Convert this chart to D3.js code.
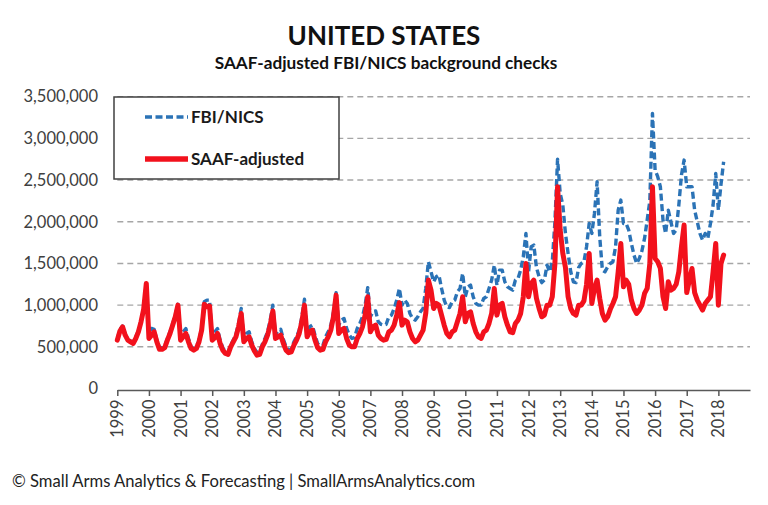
<!DOCTYPE html>
<html>
<head>
<meta charset="utf-8">
<script src="https://cdn.jsdelivr.net/npm/d3@7/dist/d3.min.js"></script>
<style>
  html, body { margin: 0; padding: 0; background: #ffffff; }
  svg { display: block; }
  text { font-family: Lato, "Open Sans", sans-serif; }
</style>
</head>
<body>
<svg id="chart" width="768" height="505"></svg>
<script>
// ---------------- DATA (monthly, thousands of checks) ----------------
const startYear = 1999;
const tickLabels = ["1999","2000","2001","2002","2003","2004","2005","2006","2007","2008",
                    "2009","2010","2011","2012","2013","2014","2015","2016","2017","2018"];
const yTickValues = [0, 500, 1000, 1500, 2000, 2500, 3000, 3500];

// FBI/NICS monthly totals, Jan 1999 - Mar 2018 (thousands)
const fbiNics = [
  590, 710, 750, 650, 590, 570, 550, 620, 690, 810, 960, 1260,
  610, 720, 710, 580, 490, 490, 510, 600, 680, 780, 880, 1010,
  600, 680, 720, 600, 500, 480, 500, 580, 720, 1040, 1060, 1060,
  600, 680, 720, 580, 490, 440, 430, 520, 580, 650, 780, 960,
  590, 660, 680, 560, 480, 430, 440, 530, 600, 680, 820, 1000,
  640, 690, 710, 590, 500, 460, 470, 560, 620, 700, 860, 1070,
  660, 740, 760, 640, 540, 510, 520, 620, 680, 760, 920, 1150,
  760, 820, 840, 720, 640, 600, 610, 720, 780, 860, 1000, 1210,
  860, 920, 930, 800, 770, 760, 770, 860, 880, 960, 1060, 1200,
  1000, 1060, 1020, 900, 840, 820, 860, 920, 960, 1200, 1520, 1400,
  1280, 1340, 1360, 1200, 1060, 980, 970, 1040, 1060, 1160, 1200, 1380,
  1100, 1220, 1240, 1100, 1020, 1000, 1000, 1080, 1100, 1200, 1300, 1480,
  1240, 1420, 1420, 1280, 1220, 1200, 1180, 1300, 1320, 1420, 1580, 1860,
  1400, 1700, 1720, 1450, 1340, 1270, 1300, 1480, 1400, 1520, 2000, 2750,
  2340, 2200, 1860, 1620, 1400, 1280, 1270, 1450, 1500, 1520, 1700, 1980,
  1860, 2100, 2480, 1820, 1420, 1400, 1460, 1500, 1520, 1700, 2140, 2260,
  1980, 1980, 1900, 1740, 1600, 1500, 1560, 1650, 1800, 2020, 2250, 3300,
  2620, 2540, 2420, 2020, 1860, 2140, 2000, 1860, 1900, 2200, 2560, 2740,
  2420, 2420, 2420, 2140, 2000, 1860, 1780, 1860, 1800, 1980, 2200, 2580,
  2140, 2450, 2720
];

// SAAF-adjusted checks, Jan 1999 - Mar 2018 (thousands)
const saafAdjusted = [
  580, 690, 740, 640, 580, 560, 540, 600, 680, 800, 950, 1260,
  600, 640, 680, 560, 470, 470, 490, 580, 660, 760, 860, 1000,
  580, 620, 660, 560, 480, 460, 480, 560, 700, 1010, 980, 990,
  580, 610, 660, 540, 460, 420, 410, 500, 560, 620, 740, 900,
  560, 600, 620, 520, 450, 400, 410, 500, 560, 640, 760, 930,
  600, 620, 640, 540, 460, 430, 440, 520, 580, 660, 800, 1000,
  620, 680, 700, 580, 490, 460, 470, 560, 620, 700, 860, 1120,
  660, 700, 720, 600, 520, 500, 500, 600, 660, 740, 880, 1100,
  680, 740, 760, 640, 600, 580, 590, 680, 700, 760, 880, 1030,
  760, 820, 800, 680, 600, 560, 580, 640, 700, 900, 1300, 1180,
  960, 1020, 1000, 880, 760, 660, 620, 680, 700, 800, 900, 1100,
  800, 900, 920, 780, 680, 620, 600, 680, 700, 780, 900, 1200,
  880, 1000, 1020, 860, 760, 680, 670, 780, 820, 900, 1100, 1500,
  1100, 1260, 1300, 1080, 960, 860, 880, 1000, 1000, 1100, 1500, 2420,
  1900, 1620, 1450, 1100, 960, 900, 880, 1000, 1000, 1050, 1250, 1620,
  1020, 1200, 1300, 1080, 900, 820, 860, 950, 1020, 1100, 1400, 1740,
  1220, 1300, 1250, 1060, 960, 900, 940, 1000, 1140, 1200, 1500, 2420,
  1560, 1520, 1440, 1100, 960, 1280, 1180, 1200, 1250, 1400, 1700, 1960,
  1150, 1300, 1440, 1150, 1060, 1000, 940, 1020, 1060, 1100, 1400, 1740,
  1000, 1500, 1600
];

const seriesNames = ["FBI/NICS", "SAAF-adjusted"];
const titleText = "UNITED STATES";
const subtitleText = "SAAF-adjusted FBI/NICS background checks";
const footerText = "\u00A9 Small Arms Analytics & Forecasting | SmallArmsAnalytics.com";

// ---------------- CHART ----------------
const svg = d3.select("#chart");
const plot = { left: 117.3, right: 750, top: 96.7, bottom: 388.5 };

const x = d3.scaleLinear().domain([0, tickLabels.length * 12]).range([plot.left, plot.right]);
const y = d3.scaleLinear().domain([0, 3500]).range([plot.bottom, plot.top]);

const gridColor = "#a6a6a6";
const labelColor = "#404040";
const blue = "#2b73b6";
const red = "#f2111c";

// Gridlines
svg.append("g").selectAll("line")
  .data(yTickValues.filter(v => v > 0))
  .join("line")
  .attr("x1", plot.left).attr("x2", plot.right)
  .attr("y1", d => y(d)).attr("y2", d => y(d))
  .attr("stroke", gridColor).attr("stroke-width", 1.4)
  .attr("stroke-dasharray", "6,4");

// Y axis labels
const fmt = d3.format(",");
svg.append("g").selectAll("text")
  .data(yTickValues)
  .join("text")
  .attr("x", 98).attr("y", d => y(d))
  .attr("dy", "0.35em")
  .attr("text-anchor", "end")
  .attr("font-size", 16.5)
  .attr("fill", labelColor)
  .text(d => fmt(d * 1000));

// X axis
const xAxis = d3.axisBottom(x)
  .tickValues(d3.range(0, tickLabels.length).map(i => i * 12))
  .tickSize(6)
  .tickSizeOuter(0)
  .tickFormat(() => "");
const gx = svg.append("g").attr("transform", `translate(0,${plot.bottom + 1.5})`).call(xAxis);
gx.select(".domain").attr("stroke", "#595959").attr("stroke-width", 1.5);
gx.selectAll(".tick line").attr("stroke", "#595959").attr("stroke-width", 1.5);

svg.append("g").selectAll("text")
  .data(tickLabels)
  .join("text")
  .attr("transform", (d, i) => `translate(${x(i * 12)},${plot.bottom + 11}) rotate(-90)`)
  .attr("text-anchor", "end")
  .attr("dy", "0.36em")
  .attr("font-size", 16.5)
  .attr("fill", labelColor)
  .text(d => d);

// Lines
const line = d3.line()
  .x((d, i) => x(i))
  .y(d => y(d));

svg.append("path")
  .datum(fbiNics)
  .attr("d", line)
  .attr("fill", "none")
  .attr("stroke", blue)
  .attr("stroke-width", 3.4)
  .attr("stroke-dasharray", "7,3.5")
  .attr("stroke-linejoin", "round");

svg.append("path")
  .datum(saafAdjusted)
  .attr("d", line)
  .attr("fill", "none")
  .attr("stroke", red)
  .attr("stroke-width", 5)
  .attr("stroke-linejoin", "round")
  .attr("stroke-linecap", "round");

// Legend
const lg = svg.append("g");
lg.append("rect")
  .attr("x", 114).attr("y", 97).attr("width", 225).attr("height", 82)
  .attr("fill", "#ffffff").attr("stroke", "#404040").attr("stroke-width", 1.5);
const legendItems = [
  { name: seriesNames[0], color: blue, width: 3.4, dash: "7,3.5", y: 117 },
  { name: seriesNames[1], color: red, width: 5.5, dash: null, y: 159 }
];
legendItems.forEach(it => {
  lg.append("line")
    .attr("x1", 145).attr("x2", 188)
    .attr("y1", it.y).attr("y2", it.y)
    .attr("stroke", it.color).attr("stroke-width", it.width)
    .attr("stroke-dasharray", it.dash);
  lg.append("text")
    .attr("x", 191).attr("y", it.y).attr("dy", "0.35em")
    .attr("font-size", 17).attr("font-weight", 700)
    .attr("fill", "#1a1a1a")
    .text(it.name);
});

// Titles
svg.append("text")
  .attr("x", 384).attr("y", 45)
  .attr("text-anchor", "middle")
  .attr("font-size", 26).attr("font-weight", 700)
  .attr("fill", "#111")
  .text(titleText);
svg.append("text")
  .attr("x", 386).attr("y", 69)
  .attr("text-anchor", "middle")
  .attr("font-size", 17.2).attr("font-weight", 700)
  .attr("fill", "#111")
  .text(subtitleText);

// Footer
svg.append("text")
  .attr("x", 12).attr("y", 487)
  .attr("font-size", 16.6)
  .attr("fill", "#222")
  .text(footerText);
</script>
</body>
</html>
